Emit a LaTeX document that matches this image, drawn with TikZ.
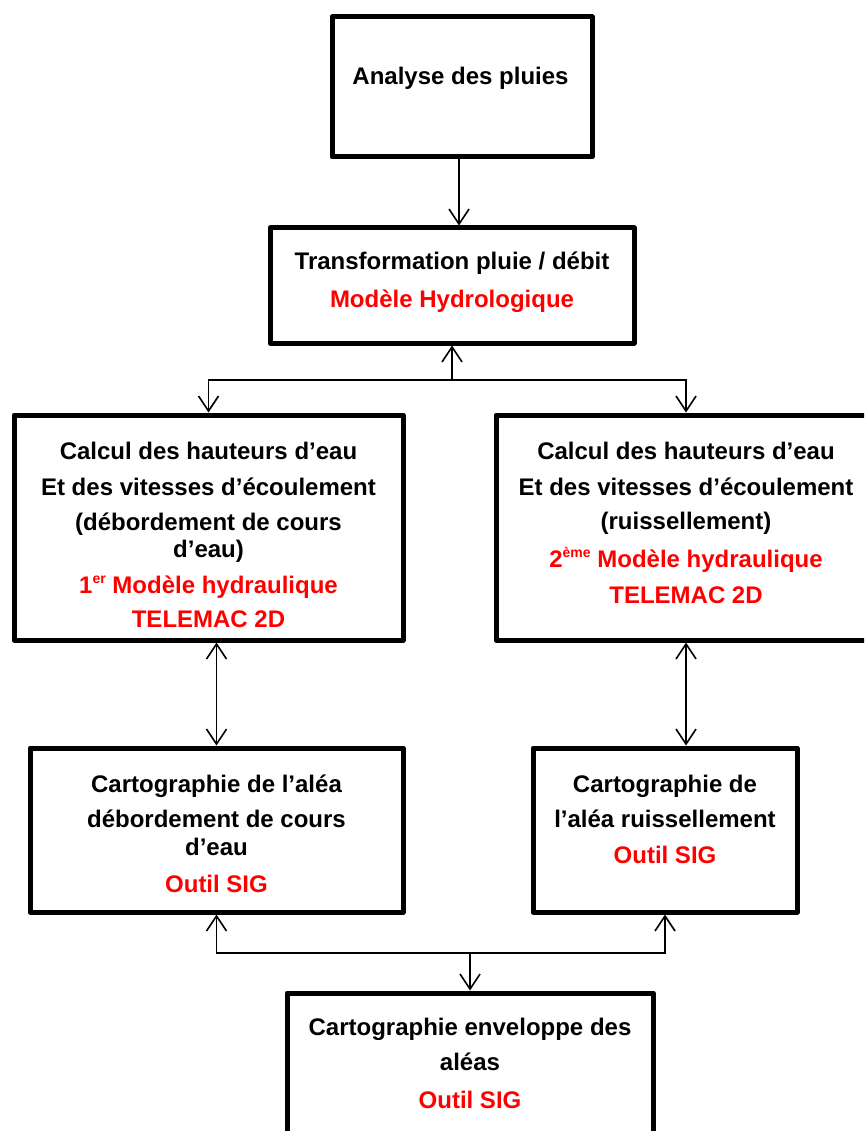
\documentclass[tikz,border=0pt]{standalone}
\usepackage{fontspec}
\setmainfont{Liberation Sans}
\usetikzlibrary{arrows.meta}
\definecolor{myred}{RGB}{255,0,0}
\newcommand\supx[1]{\raisebox{10pt}{\fontsize{14}{14}\selectfont #1}}
\tikzset{
  box/.style={draw, line width=5pt, line join=round, inner sep=0pt, fill=white},
  txt/.style={font=\fontsize{24}{28}\selectfont\bfseries, inner sep=0pt, anchor=base},
  rtxt/.style={txt, text=myred},
  arr/.style={line width=1.6pt, -{Straight Barb[length=15pt,width=20pt]}},
  dbl/.style={line width=1.6pt, {Straight Barb[length=15pt,width=20pt]}-{Straight Barb[length=15pt,width=20pt]}}
}
\begin{document}
\begin{tikzpicture}[x=1pt,y=-1pt]
\useasboundingbox (0,0) rectangle (864,1131);
\clip (0,0) rectangle (864,1131);
% boxes
\node[box, minimum width=260pt, minimum height=140pt] (A) at (462,87) {};
\node[box, minimum width=364pt, minimum height=115pt] (B) at (452,285.5) {};
\node[box, minimum width=389pt, minimum height=225pt] (C) at (208.5,527.5) {};
\node[box, minimum width=380pt, minimum height=225pt] (D) at (686,527.5) {};
\node[box, minimum width=373pt, minimum height=164pt] (E) at (216.5,830) {};
\node[box, minimum width=264pt, minimum height=164pt] (F) at (665,830) {};
\node[box, minimum width=366pt, minimum height=152pt] (G) at (470,1069) {};
% texts
\node[txt] (A1) at (460.5,85) {Analyse des pluies};
\node[txt] (B1) at (452,270) {Transformation pluie / débit};
\node[rtxt] (B2) at (452,307) {Modèle Hydrologique};
\node[txt] (C1) at (208.5,459) {Calcul des hauteurs d’eau};
\node[txt] (C2) at (208.5,495) {Et des vitesses d’écoulement};
\node[txt] (C3) at (208.5,530) {(débordement de cours};
\node[txt] (C4) at (208.5,557) {d’eau)};
\node[rtxt] (C5) at (208.5,593) {1\supx{er} Modèle hydraulique};
\node[rtxt] (C6) at (208.5,627) {TELEMAC 2D};
\node[txt] (D1) at (686,459) {Calcul des hauteurs d’eau};
\node[txt] (D2) at (686,495) {Et des vitesses d’écoulement};
\node[txt] (D3) at (686,529) {(ruissellement)};
\node[rtxt] (D4) at (686,567) {2\supx{ème} Modèle hydraulique};
\node[rtxt] (D5) at (686,603) {TELEMAC 2D};
\node[txt] (E1) at (216.5,792) {Cartographie de l’aléa};
\node[txt] (E2) at (216.5,827) {débordement de cours};
\node[txt] (E3) at (216.5,855) {d’eau};
\node[rtxt] (E4) at (216.5,892) {Outil SIG};
\node[txt] (F1) at (665,792) {Cartographie de};
\node[txt] (F2) at (665,827) {l’aléa ruissellement};
\node[rtxt] (F3) at (665,863) {Outil SIG};
\node[txt] (G1) at (470,1035) {Cartographie enveloppe des};
\node[txt] (G2) at (470,1070) {aléas};
\node[rtxt] (G3) at (470,1108) {Outil SIG};
% connectors
\coordinate (J1) at (452,380);
\coordinate (J2) at (470,953);
\draw[arr] ([xshift=-3pt]A.south) -- ([xshift=-3pt]A.south |- B.north);
\draw[arr] (J1) -- (B.south);
\draw[arr] (J1) -| (C.north);
\draw[arr] (J1) -| (D.north);
\draw[dbl] (E.north |- C.south) -- (E.north);
\draw[dbl] (D.south) -- (D.south |- F.north);
\draw[arr] (J2) -- (G.north);
\draw[arr] (J2) -| (E.south);
\draw[arr] (J2) -| (F.south);
\end{tikzpicture}
\end{document}
